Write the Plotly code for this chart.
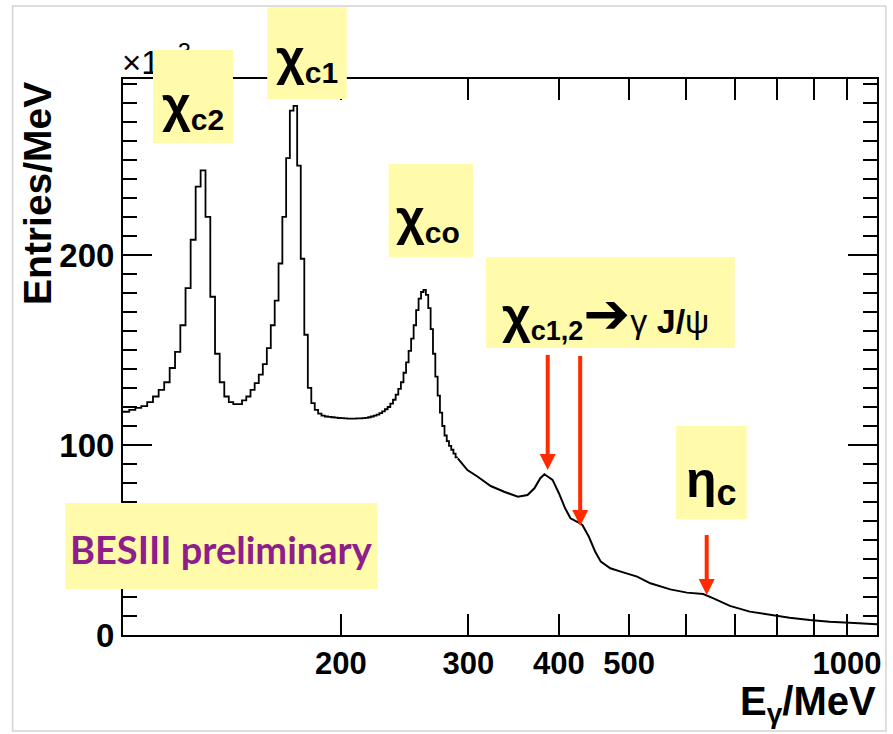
import numpy as np
import plotly.graph_objects as go

# ---------------- data ----------------
# 2 MeV histogram bins, 100 ... 290 MeV (left edges), entries/MeV in units of 10^3
lo_edges = list(range(100, 292, 2))
lo_counts = [
    117.5, 118.5, 119.5, 120.5, 122.5, 125.5, 129.0, 133.0, 140.5, 149.0,
    163.0, 182.5, 208.0, 236.0, 244.5, 220.0, 178.0, 148.0, 133.0, 125.5,
    122.5, 121.5, 121.5, 123.5, 125.5, 129.0, 132.5, 137.0, 142.5, 151.0,
    163.0, 176.0, 195.5, 220.0, 251.0, 276.0, 278.5, 247.0, 198.0, 158.0,
    130.0, 122.0, 118.5, 116.5, 115.5,
    115.0, 114.8, 114.6, 114.4, 114.2, 114.1, 114.0, 113.9, 113.9, 113.9,
    114.0, 114.0, 114.1, 114.3, 114.6, 115.0, 115.5, 116.0, 116.8, 117.7,
    118.8, 120.0, 121.8, 123.8, 126.5, 129.5, 133.0, 138.0, 143.5, 149.5,
    156.0, 163.0, 171.0, 177.0, 180.5, 181.6, 179.0, 172.0, 161.0, 148.0,
    136.0, 126.0, 117.0, 110.0, 105.0, 102.0, 99.5, 97.5, 95.5, 93.5,
]
# fine-binned tail, drawn as a curve
hi_E = [290, 299, 309, 322, 336, 351, 362, 370, 377, 382, 392, 400, 408, 415,
        424, 431, 440, 449, 457, 471, 492, 513, 535, 570, 601, 633, 654, 689,
        734, 782, 833, 888, 946, 1008, 1100]
hi_counts = [93.0, 86.8, 83.3, 78.4, 75.4, 72.8, 73.7, 77.2, 82.5, 84.6, 81.6,
             74.6, 66.7, 61.4, 59.6, 57.9, 51.7, 43.8, 38.6, 35.1, 32.8, 30.7,
             27.2, 24.0, 22.3, 21.6, 19.3, 15.3, 12.3, 10.5, 9.1, 7.9, 7.0,
             6.5, 5.6]

x_major_ticks = [200, 300, 400, 500, 1000]
x_minor_ticks = [600, 700, 800, 900]
y_tick_vals = [0, 100, 200]
x_range = [100, 1100]
y_range = [0, 292.6]

# red arrows: photon energy, tip height, top of shaft (in 10^3 entries/MeV)
arrow_E = [386, 428, 640]
arrow_tip = [86.8, 57.4, 21.0]
arrow_top = [147.4, 146.8, 52.6]

# ---------------- layout helpers ----------------
W, H = 893, 734
L, R, T, B = 123, 881, 79, 635


def px(xp):
    return (xp - L) / (R - L)


def py(yp):
    return (B - yp) / (B - T)


YELLOW = "#FFFBAA"
PURPLE = "#8E1E8C"
RED = "#FF2A00"
FONT = "Liberation Sans"

fig = go.Figure()
fig.add_trace(go.Scatter(
    x=lo_edges, y=lo_counts + [lo_counts[-1]], mode="lines",
    line=dict(shape="hv", color="black", width=1.8), hoverinfo="skip"))
fig.add_trace(go.Scatter(
    x=hi_E, y=hi_counts, mode="lines",
    line=dict(color="black", width=2), hoverinfo="skip"))

# red arrows: shafts and heads
shaft_x, shaft_y = [], []
for e, tip, top in zip(arrow_E, arrow_tip, arrow_top):
    shaft_x += [e, e, None]
    shaft_y += [top, tip + 5, None]
fig.add_trace(go.Scatter(x=shaft_x, y=shaft_y, mode="lines",
                         line=dict(color=RED, width=4), hoverinfo="skip"))
fig.add_trace(go.Scatter(x=arrow_E, y=arrow_tip, mode="markers",
                         marker=dict(symbol="arrow-down", size=16, color=RED,
                                     line=dict(width=0)),
                         cliponaxis=False, hoverinfo="skip"))

axis_common = dict(
    ticks="inside", tickwidth=2, tickcolor="black",
    showline=True, linewidth=2, linecolor="black", mirror="ticks",
    showgrid=False, zeroline=False,
)
fig.update_layout(
    width=W, height=H,
    margin=dict(l=L, r=W - R, t=T, b=H - B),
    paper_bgcolor="white", plot_bgcolor="white", showlegend=False,
    xaxis=dict(type="log", range=[np.log10(x_range[0]), np.log10(x_range[1])],
               tickmode="array", tickvals=x_major_ticks,
               ticktext=[str(v) for v in x_major_ticks],
               ticklen=21,
               tickfont=dict(family=FONT, size=31, color="black", weight="bold"),
               minor=dict(tickmode="array", tickvals=x_minor_ticks, ticklen=21,
                          tickwidth=2, tickcolor="black", ticks="inside",
                          showgrid=False),
               **axis_common),
    yaxis=dict(range=y_range, tickmode="array", tickvals=y_tick_vals,
               ticklen=29,
               tickfont=dict(family=FONT, size=33, color="black", weight="bold"),
               minor=dict(tick0=0, dtick=10, ticklen=14, tickwidth=2,
                          tickcolor="black", ticks="inside", showgrid=False),
               **axis_common),
)

# yellow boxes (above the data and frame, below the labels)
boxes = [
    (268, 7, 348, 99),     # chi_c1
    (390, 164, 475, 257),  # chi_c0
    (488, 257, 738, 348),  # chi_c1,2 -> gamma J/psi
    (679, 426, 750, 519),  # eta_c
    (65, 503, 379, 589),   # BESIII preliminary
]
for x0, y0, x1, y1 in boxes:
    fig.add_shape(type="rect", xref="paper", yref="paper",
                  x0=px(x0), x1=px(x1), y0=py(y1), y1=py(y0),
                  fillcolor=YELLOW, line=dict(width=0), layer="above")

# thin light frame around the whole picture
fig.add_shape(type="rect", xref="paper", yref="paper",
              x0=px(12), y0=py(731), x1=px(890), y1=py(6),
              line=dict(color="#d4d4d4", width=1.5), layer="below")

ann = []
# x10^3 multiplier, partly hidden by the chi_c2 box drawn after it
ann.append(dict(text="×10<sup>3</sup>", xref="paper", yref="paper",
                x=px(120), y=py(83), xanchor="left", yanchor="bottom",
                showarrow=False, font=dict(family=FONT, size=33, color="black")))
ann.append(dict(text=" ", xref="paper", yref="paper", x=px(153), y=py(50),
                xanchor="left", yanchor="top", width=80, height=93,
                bgcolor=YELLOW, borderpad=0, borderwidth=0, showarrow=False,
                font=dict(size=8)))

CHI = "<span style='font-size:50px'>χ</span>"
labels = [
    (CHI + "<sub><span style='font-size:30px'>c2</span></sub>", 193, 106),
    (CHI + "<sub><span style='font-size:30px'>c1</span></sub>", 308, 60),
    (CHI + "<sub><span style='font-size:30px'>co</span></sub>", 430, 219),
    (CHI + "<sub><span style='font-size:27px'>c1,2</span></sub>"
     "<span style='font-family:DejaVu Sans;font-size:56px'>➔</span>"
     "<span style='font-weight:normal'>γ</span> J/"
     "<span style='font-weight:normal'>ψ</span>", 608, 313),
    ("<span style='font-size:50px'>η</span>"
     "<sub><span style='font-size:36px'>c</span></sub>", 715, 483),
]
for i, (txt, cx, cy) in enumerate(labels):
    ann.append(dict(text=txt, xref="paper", yref="paper", x=px(cx), y=py(cy),
                    xanchor="center", yanchor="middle", showarrow=False,
                    font=dict(family=FONT, size=34 if i == 3 else 36,
                              color="black", weight="bold")))

ann.append(dict(text="BESIII preliminary", xref="paper", yref="paper",
                x=px(222), y=py(549), xanchor="center", yanchor="middle",
                showarrow=False,
                font=dict(family="Lato", size=38, color=PURPLE, weight="bold")))

# axis titles
ann.append(dict(text="Entries/MeV", xref="paper", yref="paper",
                x=px(37), y=py(80), xanchor="center", yanchor="top",
                textangle=-90, showarrow=False,
                font=dict(family=FONT, size=39, color="black", weight="bold")))
ann.append(dict(text="E<sub>γ</sub>/MeV", xref="paper", yref="paper",
                x=px(882), y=py(731), xanchor="right", yanchor="bottom",
                showarrow=False,
                font=dict(family=FONT, size=40, color="black", weight="bold")))

fig.update_layout(annotations=ann)

fig.write_html("out.html",
               config={"displayModeBar": False},
               post_script="document.body.style.margin='0';"
                           "document.body.style.overflow='hidden';")
